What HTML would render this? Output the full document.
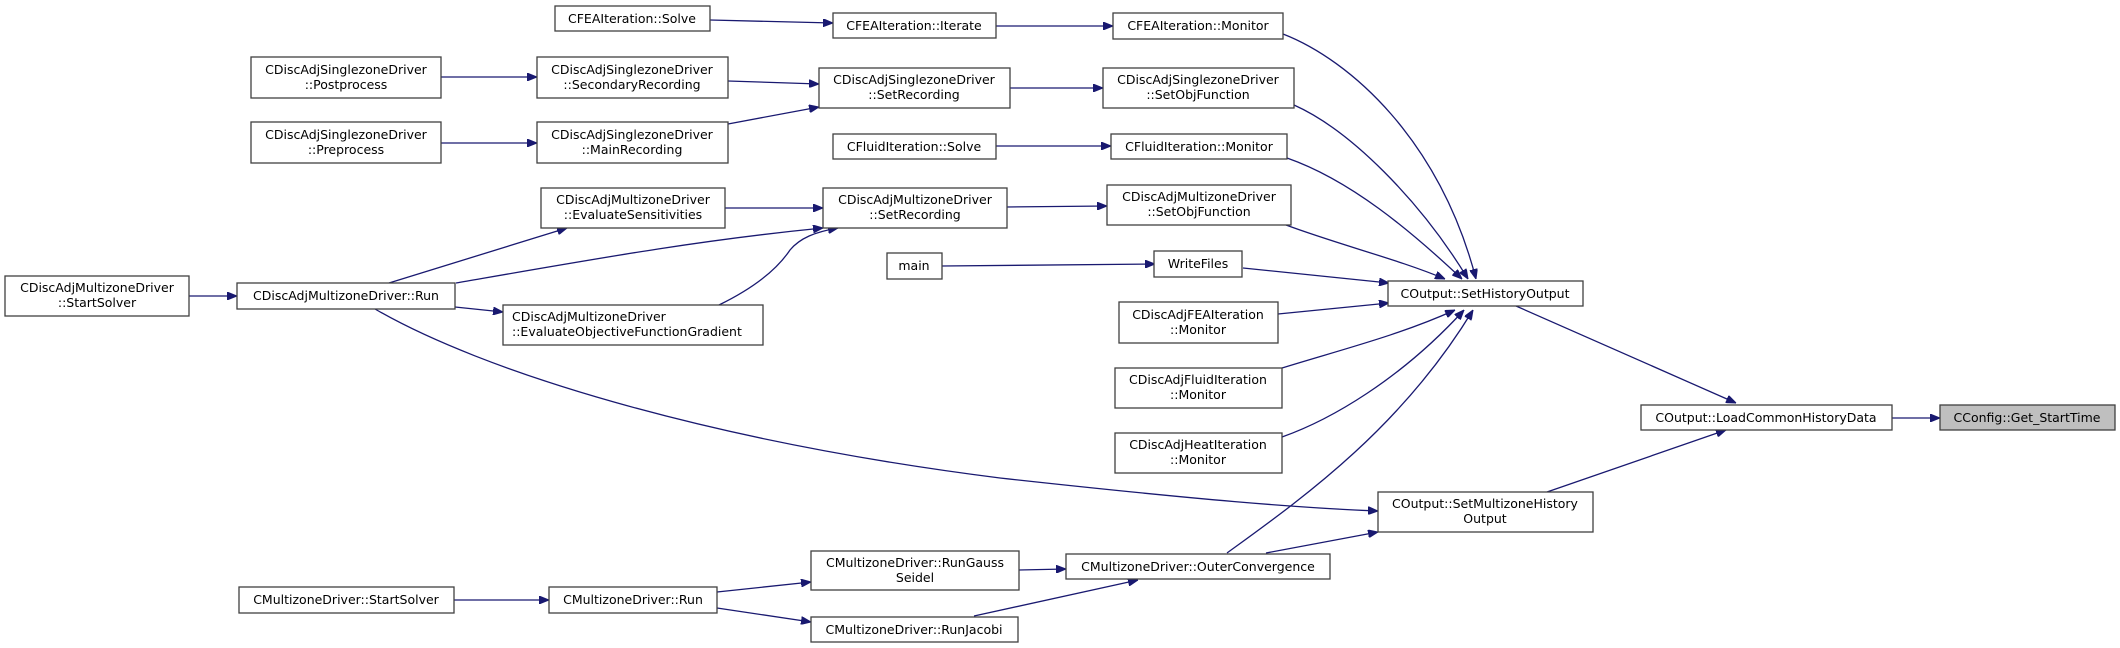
<!DOCTYPE html>
<html><head><meta charset="utf-8"><style>
html,body{margin:0;padding:0;background:#fff;}
svg{display:block;}
text{font-family:"DejaVu Sans","Liberation Sans",sans-serif;font-size:12.5px;fill:#000;text-anchor:middle;}
.b{fill:#fff;stroke:#404040;stroke-width:1.3;}
.e{fill:none;stroke:#191970;stroke-width:1.3;marker-end:url(#a);}
</style></head><body>
<svg width="2120" height="648" viewBox="0 0 2120 648" xmlns="http://www.w3.org/2000/svg">
<defs><marker id="a" viewBox="0 0 10 8" refX="10" refY="4" markerWidth="10" markerHeight="8" markerUnits="userSpaceOnUse" orient="auto"><path d="M0,0 L10,4 L0,8 z" fill="#191970" stroke="#191970"/></marker></defs>

<!-- edges -->
<path class="e" d="M710,20 L833,23"/>
<path class="e" d="M996,26 L1113,26"/>
<path class="e" d="M441,77 L537,77"/>
<path class="e" d="M728,81 L819,84"/>
<path class="e" d="M728,124 L819,107"/>
<path class="e" d="M441,143 L537,143"/>
<path class="e" d="M1010,88 L1103,88"/>
<path class="e" d="M996,146 L1111,146"/>
<path class="e" d="M725,208 L823,208"/>
<path class="e" d="M1007,207 L1107,206"/>
<path class="e" d="M942,266 L1155,264"/>
<path class="e" d="M189,296 L237,296"/>
<path class="e" d="M455,307 L503,312"/>
<path class="e" d="M389,283 L567,228"/>
<path class="e" d="M456,283 C600,258 700,240 823,228"/>
<path class="e" d="M719,305 C760,285 780,265 790,250 C800,238 815,232 838,228"/>
<path class="e" d="M375,309 C480,370 700,440 1000,478 C1200,500 1300,508 1378,511"/>
<path class="e" d="M1283,34 C1350,60 1440,140 1476,279"/>
<path class="e" d="M1294,105 C1350,130 1420,200 1468,279"/>
<path class="e" d="M1287,158 C1350,180 1410,230 1462,279"/>
<path class="e" d="M1286,225 C1340,245 1400,260 1445,279"/>
<path class="e" d="M1243,268 L1389,283"/>
<path class="e" d="M1278,314 L1389,303"/>
<path class="e" d="M1282,368 C1340,350 1400,335 1455,310"/>
<path class="e" d="M1282,437 C1330,420 1400,380 1464,310"/>
<path class="e" d="M1227,553 C1300,500 1400,430 1473,310"/>
<path class="e" d="M1516,306 L1736,403"/>
<path class="e" d="M1547,492 L1726,430"/>
<path class="e" d="M1892,418 L1940,418"/>
<path class="e" d="M1266,553 L1378,532"/>
<path class="e" d="M454,600 L549,600"/>
<path class="e" d="M717,592 L811,582"/>
<path class="e" d="M717,608 L811,622"/>
<path class="e" d="M1019,570 L1066,569"/>
<path class="e" d="M974,616 L1138,580"/>

<!-- nodes -->
<rect class="b" x="555" y="6" width="155" height="25"/><text x="632" y="23">CFEAIteration::Solve</text>
<rect class="b" x="833" y="13" width="163" height="25"/><text x="914" y="30">CFEAIteration::Iterate</text>
<rect class="b" x="1113" y="13" width="170" height="26"/><text x="1198" y="30">CFEAIteration::Monitor</text>

<rect class="b" x="251" y="57" width="190" height="41"/><text x="346" y="74">CDiscAdjSinglezoneDriver</text><text x="346" y="89">::Postprocess</text>
<rect class="b" x="537" y="57" width="191" height="41"/><text x="632" y="74">CDiscAdjSinglezoneDriver</text><text x="632" y="89">::SecondaryRecording</text>
<rect class="b" x="819" y="68" width="191" height="40"/><text x="914" y="84">CDiscAdjSinglezoneDriver</text><text x="914" y="99">::SetRecording</text>
<rect class="b" x="1103" y="68" width="191" height="40"/><text x="1198" y="84">CDiscAdjSinglezoneDriver</text><text x="1198" y="99">::SetObjFunction</text>

<rect class="b" x="251" y="122" width="190" height="41"/><text x="346" y="139">CDiscAdjSinglezoneDriver</text><text x="346" y="154">::Preprocess</text>
<rect class="b" x="537" y="122" width="191" height="41"/><text x="632" y="139">CDiscAdjSinglezoneDriver</text><text x="632" y="154">::MainRecording</text>
<rect class="b" x="833" y="134" width="163" height="25"/><text x="914" y="151">CFluidIteration::Solve</text>
<rect class="b" x="1111" y="134" width="176" height="25"/><text x="1199" y="151">CFluidIteration::Monitor</text>

<rect class="b" x="541" y="188" width="184" height="40"/><text x="633" y="204">CDiscAdjMultizoneDriver</text><text x="633" y="219">::EvaluateSensitivities</text>
<rect class="b" x="823" y="188" width="184" height="40"/><text x="915" y="204">CDiscAdjMultizoneDriver</text><text x="915" y="219">::SetRecording</text>
<rect class="b" x="1107" y="185" width="184" height="40"/><text x="1199" y="201">CDiscAdjMultizoneDriver</text><text x="1199" y="216">::SetObjFunction</text>

<rect class="b" x="887" y="253" width="55" height="26"/><text x="914" y="270">main</text>
<rect class="b" x="1154" y="251" width="88" height="26"/><text x="1198" y="268">WriteFiles</text>
<rect class="b" x="1388" y="281" width="195" height="25"/><text x="1485" y="298">COutput::SetHistoryOutput</text>

<rect class="b" x="5" y="276" width="184" height="40"/><text x="97" y="292">CDiscAdjMultizoneDriver</text><text x="97" y="307">::StartSolver</text>
<rect class="b" x="237" y="283" width="218" height="26"/><text x="346" y="300">CDiscAdjMultizoneDriver::Run</text>
<rect class="b" x="503" y="305" width="260" height="40"/><text x="504" y="321" style="text-anchor:start" dx="8">CDiscAdjMultizoneDriver</text><text x="504" y="336" style="text-anchor:start" dx="8">::EvaluateObjectiveFunctionGradient</text>

<rect class="b" x="1119" y="302" width="159" height="41"/><text x="1198" y="319">CDiscAdjFEAIteration</text><text x="1198" y="334">::Monitor</text>
<rect class="b" x="1115" y="368" width="167" height="40"/><text x="1198" y="384">CDiscAdjFluidIteration</text><text x="1198" y="399">::Monitor</text>
<rect class="b" x="1115" y="433" width="167" height="40"/><text x="1198" y="449">CDiscAdjHeatIteration</text><text x="1198" y="464">::Monitor</text>

<rect class="b" x="1641" y="405" width="251" height="25"/><text x="1766" y="422">COutput::LoadCommonHistoryData</text>
<rect x="1940" y="405" width="175" height="25" fill="#bfbfbf" stroke="#404040" stroke-width="1.3"/><text x="2027" y="422">CConfig::Get_StartTime</text>

<rect class="b" x="1378" y="492" width="215" height="40"/><text x="1485" y="508">COutput::SetMultizoneHistory</text><text x="1485" y="523">Output</text>

<rect class="b" x="811" y="551" width="208" height="39"/><text x="915" y="567">CMultizoneDriver::RunGauss</text><text x="915" y="582">Seidel</text>
<rect class="b" x="1066" y="554" width="264" height="25"/><text x="1198" y="571">CMultizoneDriver::OuterConvergence</text>
<rect class="b" x="239" y="587" width="215" height="26"/><text x="346" y="604">CMultizoneDriver::StartSolver</text>
<rect class="b" x="549" y="587" width="168" height="26"/><text x="633" y="604">CMultizoneDriver::Run</text>
<rect class="b" x="811" y="617" width="207" height="25"/><text x="914" y="634">CMultizoneDriver::RunJacobi</text>
</svg>
</body></html>
